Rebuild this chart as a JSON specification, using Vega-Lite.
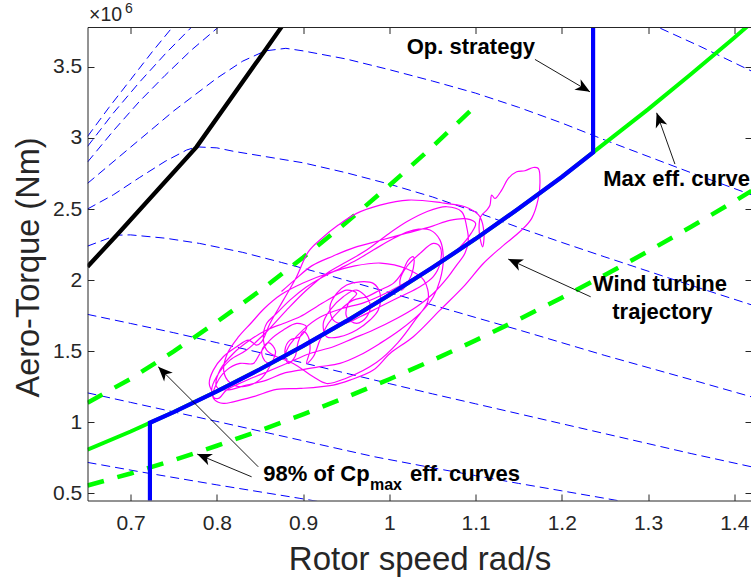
{
"$schema": "https://vega.github.io/schema/vega-lite/v6.json",
"width": 664,
"height": 473.5,
"autosize": {"type": "none"},
"padding": {"left": 87.5, "top": 27, "right": 0, "bottom": 80.5},
"background": "white",
"config": {"view": {"stroke": null}},
"resolve": {"axis": {"x": "independent", "y": "independent"}},
"encoding": {
  "x": {"field": "x", "type": "quantitative", "scale": {"domain": [0.65, 1.42], "nice": false, "zero": false}, "axis": null},
  "y": {"field": "y", "type": "quantitative", "scale": {"domain": [0.45, 3.78], "nice": false, "zero": false}, "axis": null}
},
"layer": [
{
  "data": {"values": [
    {"c":1,"x":0.65,"y":3.01},{"c":1,"x":0.675,"y":3.215},{"c":1,"x":0.70,"y":3.41},{"c":1,"x":0.725,"y":3.605},{"c":1,"x":0.75,"y":3.79},{"c":1,"x":0.77,"y":3.94},
    {"c":2,"x":0.65,"y":2.94},{"c":2,"x":0.68,"y":3.175},{"c":2,"x":0.71,"y":3.39},{"c":2,"x":0.74,"y":3.59},{"c":2,"x":0.77,"y":3.775},{"c":2,"x":0.79,"y":3.89},
    {"c":3,"x":0.65,"y":2.83},{"c":3,"x":0.68,"y":3.05},{"c":3,"x":0.71,"y":3.255},{"c":3,"x":0.74,"y":3.44},{"c":3,"x":0.77,"y":3.615},{"c":3,"x":0.80,"y":3.77},{"c":3,"x":0.83,"y":3.91},{"c":3,"x":0.90,"y":4.2},{"c":3,"x":1.0,"y":4.4},{"c":3,"x":1.1,"y":4.35},{"c":3,"x":1.2,"y":4.12},{"c":3,"x":1.26,"y":3.93},{"c":3,"x":1.311,"y":3.78},{"c":3,"x":1.36,"y":3.645},{"c":3,"x":1.42,"y":3.47},
    {"c":4,"x":0.65,"y":2.68},{"c":4,"x":0.70,"y":2.935},{"c":4,"x":0.75,"y":3.19},{"c":4,"x":0.80,"y":3.42},{"c":4,"x":0.83,"y":3.54},{"c":4,"x":0.856,"y":3.612},{"c":4,"x":0.88,"y":3.63},{"c":4,"x":0.90,"y":3.612},{"c":4,"x":0.95,"y":3.555},{"c":4,"x":1.0,"y":3.48},{"c":4,"x":1.05,"y":3.40},{"c":4,"x":1.10,"y":3.315},{"c":4,"x":1.15,"y":3.215},{"c":4,"x":1.20,"y":3.105},{"c":4,"x":1.25,"y":2.985},{"c":4,"x":1.30,"y":2.87},{"c":4,"x":1.35,"y":2.755},{"c":4,"x":1.42,"y":2.60},
    {"c":5,"x":0.65,"y":2.50},{"c":5,"x":0.68,"y":2.60},{"c":5,"x":0.71,"y":2.72},{"c":5,"x":0.74,"y":2.835},{"c":5,"x":0.765,"y":2.915},{"c":5,"x":0.7765,"y":2.937},{"c":5,"x":0.80,"y":2.93},{"c":5,"x":0.82,"y":2.905},{"c":5,"x":0.85,"y":2.875},{"c":5,"x":0.90,"y":2.825},{"c":5,"x":0.95,"y":2.755},{"c":5,"x":1.00,"y":2.675},{"c":5,"x":1.05,"y":2.585},{"c":5,"x":1.10,"y":2.48},{"c":5,"x":1.15,"y":2.37},{"c":5,"x":1.20,"y":2.265},{"c":5,"x":1.25,"y":2.163},{"c":5,"x":1.30,"y":2.063},{"c":5,"x":1.35,"y":1.963},{"c":5,"x":1.42,"y":1.826},
    {"c":6,"x":0.65,"y":2.239},{"c":6,"x":0.684,"y":2.316},{"c":6,"x":0.70,"y":2.318},{"c":6,"x":0.74,"y":2.295},{"c":6,"x":0.78,"y":2.258},{"c":6,"x":0.83,"y":2.195},{"c":6,"x":0.875,"y":2.124},{"c":6,"x":0.92,"y":2.05},{"c":6,"x":0.956,"y":1.988},{"c":6,"x":1.0,"y":1.912},{"c":6,"x":1.05,"y":1.825},{"c":6,"x":1.10,"y":1.737},{"c":6,"x":1.15,"y":1.65},{"c":6,"x":1.20,"y":1.56},{"c":6,"x":1.25,"y":1.47},{"c":6,"x":1.30,"y":1.385},{"c":6,"x":1.35,"y":1.30},{"c":6,"x":1.42,"y":1.179},
    {"c":7,"x":0.65,"y":1.759},{"c":7,"x":0.70,"y":1.695},{"c":7,"x":0.75,"y":1.63},{"c":7,"x":0.80,"y":1.56},{"c":7,"x":0.85,"y":1.49},{"c":7,"x":0.90,"y":1.418},{"c":7,"x":0.95,"y":1.345},{"c":7,"x":1.00,"y":1.272},{"c":7,"x":1.05,"y":1.20},{"c":7,"x":1.10,"y":1.13},{"c":7,"x":1.15,"y":1.06},{"c":7,"x":1.20,"y":0.99},{"c":7,"x":1.25,"y":0.92},{"c":7,"x":1.30,"y":0.85},{"c":7,"x":1.35,"y":0.78},{"c":7,"x":1.42,"y":0.687},
    {"c":8,"x":0.65,"y":1.207},{"c":8,"x":0.70,"y":1.14},{"c":8,"x":0.75,"y":1.073},{"c":8,"x":0.80,"y":1.006},{"c":8,"x":0.85,"y":0.938},{"c":8,"x":0.90,"y":0.870},{"c":8,"x":0.95,"y":0.802},{"c":8,"x":0.9833,"y":0.757},{"c":8,"x":1.05,"y":0.68},{"c":8,"x":1.10,"y":0.625},{"c":8,"x":1.15,"y":0.57},{"c":8,"x":1.20,"y":0.518},{"c":8,"x":1.2616,"y":0.453},{"c":8,"x":1.30,"y":0.41},
    {"c":9,"x":0.65,"y":0.718},{"c":9,"x":0.7108,"y":0.652},{"c":9,"x":0.80,"y":0.56},{"c":9,"x":0.8963,"y":0.465},{"c":9,"x":0.95,"y":0.41}
  ]},
  "mark": {"type": "line", "clip": true, "color": "#0000FF", "strokeWidth": 1, "strokeDash": [9, 5]},
  "encoding": {
    "x": {"field": "x", "type": "quantitative", "scale": {"domain": [0.65, 1.42], "nice": false, "zero": false},
      "axis": {"orient": "bottom", "values": [0.7,0.8,0.9,1,1.1,1.2,1.3,1.4], "labelExpr": "'' + datum.value", "grid": false, "zindex": 1,
        "domainColor": "#262626", "domainWidth": 1, "tickColor": "#262626", "tickSize": -6.5, "tickWidth": 1,
        "labelFont": "Liberation Sans", "labelFontSize": 21, "labelColor": "#262626", "labelBaseline": "alphabetic", "labelPadding": 35.8,
        "title": "Rotor speed rad/s", "titleFont": "Liberation Sans", "titleFontSize": 33, "titleFontWeight": "normal", "titleColor": "#262626",
        "titleBaseline": "alphabetic", "titleY": 68.5}},
    "y": {"field": "y", "type": "quantitative", "scale": {"domain": [0.45, 3.78], "nice": false, "zero": false},
      "axis": {"orient": "left", "values": [0.5,1,1.5,2,2.5,3,3.5], "labelExpr": "'' + datum.value", "grid": false, "zindex": 1,
        "domainColor": "#262626", "domainWidth": 1, "tickColor": "#262626", "tickSize": -6.5, "tickWidth": 1,
        "labelFont": "Liberation Sans", "labelFontSize": 21, "labelColor": "#262626", "labelBaseline": "middle", "labelPadding": 12.3,
        "title": "Aero-Torque (Nm)", "titleFont": "Liberation Sans", "titleFontSize": 32.5, "titleFontWeight": "normal", "titleColor": "#262626",
        "titleBaseline": "alphabetic", "titleX": -49, "titleY": 240}},
    "detail": {"field": "c", "type": "nominal"}
  }
},
{
  "data": {"values": [
    {"g":1,"x":0.65,"y":1.138},{"g":1,"x":0.70,"y":1.306},{"g":1,"x":0.75,"y":1.499},{"g":1,"x":0.80,"y":1.706},{"g":1,"x":0.85,"y":1.925},{"g":1,"x":0.90,"y":2.159},{"g":1,"x":0.95,"y":2.405},{"g":1,"x":1.00,"y":2.665},{"g":1,"x":1.05,"y":2.938},{"g":1,"x":1.0935,"y":3.187},
    {"g":2,"x":0.65,"y":0.555},{"g":2,"x":0.70,"y":0.640},{"g":2,"x":0.75,"y":0.734},{"g":2,"x":0.80,"y":0.835},{"g":2,"x":0.85,"y":0.942},{"g":2,"x":0.90,"y":1.056},{"g":2,"x":0.95,"y":1.176},{"g":2,"x":1.00,"y":1.303},{"g":2,"x":1.05,"y":1.436},{"g":2,"x":1.10,"y":1.576},{"g":2,"x":1.15,"y":1.723},{"g":2,"x":1.20,"y":1.876},{"g":2,"x":1.25,"y":2.036},{"g":2,"x":1.30,"y":2.202},{"g":2,"x":1.35,"y":2.375},{"g":2,"x":1.40,"y":2.554},{"g":2,"x":1.42,"y":2.627}
  ]},
  "mark": {"type": "line", "clip": true, "color": "#00FF00", "strokeWidth": 4.5, "strokeDash": [17, 14], "strokeCap": "butt"},
  "encoding": {
    "x": {"field": "x", "type": "quantitative", "scale": {"domain": [0.65, 1.42], "nice": false, "zero": false},
      "axis": {"orient": "top", "values": [0.7,0.8,0.9,1,1.1,1.2,1.3,1.4], "labels": false, "grid": false, "zindex": 1, "title": null,
        "domainColor": "#262626", "domainWidth": 1, "tickColor": "#262626", "tickSize": -6.5, "tickWidth": 1}},
    "y": {"field": "y", "type": "quantitative", "scale": {"domain": [0.45, 3.78], "nice": false, "zero": false},
      "axis": {"orient": "right", "values": [0.5,1,1.5,2,2.5,3,3.5], "labels": false, "grid": false, "zindex": 1, "title": null,
        "domainColor": "#262626", "domainWidth": 1, "tickColor": "#262626", "tickSize": -6.5, "tickWidth": 1}},
    "detail": {"field": "g", "type": "nominal"}
  }
},
{
  "data": {"values": [
    {"x":0.65,"y":2.094},{"x":0.6838,"y":2.316},{"x":0.7765,"y":2.937},{"x":0.856,"y":3.617},{"x":0.8751,"y":3.781},{"x":0.89,"y":3.91}
  ]},
  "mark": {"type": "line", "clip": true, "color": "#000000", "strokeWidth": 4.3}
},
{
  "data": {"values": [
    {"i":1,"x":0.7959,"y":1.203},{"i":2,"x":0.7912,"y":1.273},{"i":3,"x":0.7959,"y":1.367},{"i":4,"x":0.8075,"y":1.461},{"i":5,"x":0.8229,"y":1.531},{"i":6,"x":0.8365,"y":1.578},{"i":7,"x":0.8461,"y":1.543},{"i":8,"x":0.8519,"y":1.566},{"i":9,"x":0.8616,"y":1.695},{"i":10,"x":0.8771,"y":1.859},
    {"i":11,"x":0.8925,"y":2.024},{"i":12,"x":0.9060,"y":2.199},{"i":13,"x":0.9215,"y":2.293},{"i":14,"x":0.9408,"y":2.387},{"i":15,"x":0.9621,"y":2.469},{"i":16,"x":0.9892,"y":2.527},{"i":17,"x":1.0220,"y":2.563},{"i":18,"x":1.0607,"y":2.544},{"i":19,"x":1.0877,"y":2.516},{"i":20,"x":1.0993,"y":2.481},
    {"i":21,"x":1.1051,"y":2.445},{"i":22,"x":1.1098,"y":2.328},{"i":23,"x":1.1082,"y":2.234},{"i":24,"x":1.1044,"y":2.328},{"i":25,"x":1.1059,"y":2.445},{"i":26,"x":1.1129,"y":2.492},{"i":27,"x":1.1167,"y":2.527},{"i":28,"x":1.1187,"y":2.598},{"i":29,"x":1.1225,"y":2.574},{"i":30,"x":1.1303,"y":2.633},
    {"i":31,"x":1.1380,"y":2.715},{"i":32,"x":1.1477,"y":2.762},{"i":33,"x":1.1573,"y":2.769},{"i":34,"x":1.1670,"y":2.792},{"i":35,"x":1.1728,"y":2.785},{"i":36,"x":1.1747,"y":2.691},{"i":37,"x":1.1728,"y":2.574},{"i":38,"x":1.1651,"y":2.434},{"i":39,"x":1.1535,"y":2.352},{"i":40,"x":1.1303,"y":2.234},
    {"i":41,"x":1.1090,"y":2.117},{"i":42,"x":1.0877,"y":1.965},{"i":43,"x":1.0588,"y":1.789},{"i":44,"x":1.0278,"y":1.602},{"i":45,"x":1.0008,"y":1.484},{"i":46,"x":0.9814,"y":1.367},{"i":47,"x":0.9544,"y":1.297},{"i":48,"x":0.9350,"y":1.262},{"i":49,"x":0.8964,"y":1.238},{"i":50,"x":0.8693,"y":1.231},
    {"i":51,"x":0.8423,"y":1.180},{"i":52,"x":0.8191,"y":1.144},{"i":53,"x":0.8075,"y":1.133},{"i":54,"x":0.7978,"y":1.156},{"i":55,"x":0.7939,"y":1.227},{"i":56,"x":0.7997,"y":1.320},{"i":57,"x":0.8152,"y":1.437},{"i":58,"x":0.8345,"y":1.508},{"i":59,"x":0.8577,"y":1.637},{"i":60,"x":0.8809,"y":1.789},
    {"i":61,"x":0.9041,"y":1.930},{"i":62,"x":0.9273,"y":2.047},{"i":63,"x":0.9505,"y":2.129},{"i":64,"x":0.9737,"y":2.211},{"i":65,"x":0.9969,"y":2.316},{"i":66,"x":1.0201,"y":2.410},{"i":67,"x":1.0433,"y":2.481},{"i":68,"x":1.0665,"y":2.516},{"i":69,"x":1.0839,"y":2.481},{"i":70,"x":1.0897,"y":2.375},
    {"i":71,"x":1.0916,"y":2.281},{"i":72,"x":1.0877,"y":2.188},{"i":73,"x":1.0781,"y":2.106},{"i":74,"x":1.0684,"y":2.024},{"i":75,"x":1.0510,"y":1.906},{"i":76,"x":1.0317,"y":1.813},{"i":77,"x":1.0085,"y":1.730},{"i":78,"x":0.9814,"y":1.649},{"i":79,"x":0.9582,"y":1.590},{"i":80,"x":0.9350,"y":1.531},
    {"i":81,"x":0.9080,"y":1.484},{"i":82,"x":0.8809,"y":1.414},{"i":83,"x":0.8539,"y":1.344},{"i":84,"x":0.8307,"y":1.285},{"i":85,"x":0.8113,"y":1.227},{"i":86,"x":0.8017,"y":1.168},{"i":87,"x":0.7959,"y":1.180},{"i":88,"x":0.7997,"y":1.273},{"i":89,"x":0.8113,"y":1.367},{"i":90,"x":0.8268,"y":1.414},
    {"i":91,"x":0.8423,"y":1.414},{"i":92,"x":0.8500,"y":1.484},{"i":93,"x":0.8616,"y":1.578},{"i":94,"x":0.8771,"y":1.649},{"i":95,"x":0.8925,"y":1.695},{"i":96,"x":0.9041,"y":1.672},{"i":97,"x":0.8964,"y":1.602},{"i":98,"x":0.8848,"y":1.578},{"i":99,"x":0.8790,"y":1.508},{"i":100,"x":0.8828,"y":1.414},
    {"i":101,"x":0.8906,"y":1.461},{"i":102,"x":0.8944,"y":1.566},{"i":103,"x":0.9002,"y":1.637},{"i":104,"x":0.9060,"y":1.602},{"i":105,"x":0.9080,"y":1.508},{"i":106,"x":0.9041,"y":1.414},{"i":107,"x":0.9118,"y":1.461},{"i":108,"x":0.9196,"y":1.578},{"i":109,"x":0.9292,"y":1.695},{"i":110,"x":0.9428,"y":1.789},
    {"i":111,"x":0.9582,"y":1.859},{"i":112,"x":0.9737,"y":1.883},{"i":113,"x":0.9892,"y":1.930},{"i":114,"x":1.0046,"y":1.977},{"i":115,"x":1.0143,"y":2.047},{"i":116,"x":1.0220,"y":2.141},{"i":117,"x":1.0278,"y":2.164},{"i":118,"x":1.0278,"y":2.082},{"i":119,"x":1.0220,"y":1.988},{"i":120,"x":1.0143,"y":1.930},
    {"i":121,"x":1.0124,"y":2.000},{"i":122,"x":1.0201,"y":2.094},{"i":123,"x":1.0356,"y":2.188},{"i":124,"x":1.0510,"y":2.258},{"i":125,"x":1.0588,"y":2.234},{"i":126,"x":1.0588,"y":2.117},{"i":127,"x":1.0510,"y":2.024},{"i":128,"x":1.0356,"y":1.953},{"i":129,"x":1.0124,"y":1.883},{"i":130,"x":0.9892,"y":1.813},
    {"i":131,"x":0.9660,"y":1.742},{"i":132,"x":0.9466,"y":1.695},{"i":133,"x":0.9350,"y":1.719},{"i":134,"x":0.9312,"y":1.813},{"i":135,"x":0.9389,"y":1.906},{"i":136,"x":0.9505,"y":1.965},{"i":137,"x":0.9660,"y":1.988},{"i":138,"x":0.9814,"y":1.977},{"i":139,"x":0.9892,"y":1.906},{"i":140,"x":0.9872,"y":1.789},
    {"i":141,"x":0.9776,"y":1.719},{"i":142,"x":0.9621,"y":1.649},{"i":143,"x":0.9428,"y":1.602},{"i":144,"x":0.9273,"y":1.602},{"i":145,"x":0.9234,"y":1.695},{"i":146,"x":0.9312,"y":1.789},{"i":147,"x":0.9466,"y":1.883},{"i":148,"x":0.9621,"y":1.930},{"i":149,"x":0.9776,"y":1.836},{"i":150,"x":0.9737,"y":1.742},
    {"i":151,"x":0.9621,"y":1.695},{"i":152,"x":0.9505,"y":1.742},{"i":153,"x":0.9524,"y":1.836},{"i":154,"x":0.9621,"y":1.906},{"i":155,"x":0.9505,"y":1.930},{"i":156,"x":0.9350,"y":1.883},{"i":157,"x":0.9157,"y":1.813},{"i":158,"x":0.8964,"y":1.742},{"i":159,"x":0.8771,"y":1.695},{"i":160,"x":0.8577,"y":1.649},
    {"i":161,"x":0.8384,"y":1.578},{"i":162,"x":0.8191,"y":1.484},{"i":163,"x":0.8036,"y":1.367},{"i":164,"x":0.7997,"y":1.250},{"i":165,"x":0.8113,"y":1.227},{"i":166,"x":0.8345,"y":1.262},{"i":167,"x":0.8577,"y":1.297},{"i":168,"x":0.8771,"y":1.344},{"i":169,"x":0.8964,"y":1.367},{"i":170,"x":0.9196,"y":1.391},
    {"i":171,"x":0.9428,"y":1.414},{"i":172,"x":0.9660,"y":1.473},{"i":173,"x":0.9892,"y":1.555},{"i":174,"x":1.0124,"y":1.649},{"i":175,"x":1.0356,"y":1.766},{"i":176,"x":1.0510,"y":1.883},{"i":177,"x":1.0588,"y":2.000},{"i":178,"x":1.0626,"y":2.141},{"i":179,"x":1.0588,"y":2.281},{"i":180,"x":1.0472,"y":2.352},
    {"i":181,"x":1.0278,"y":2.352},{"i":182,"x":1.0046,"y":2.293},{"i":183,"x":0.9814,"y":2.211},{"i":184,"x":0.9621,"y":2.141},{"i":185,"x":0.9428,"y":2.082},{"i":186,"x":0.9234,"y":2.024},{"i":187,"x":0.9041,"y":1.953},{"i":188,"x":0.8848,"y":1.859},{"i":189,"x":0.8693,"y":1.766},{"i":190,"x":0.8577,"y":1.695},
    {"i":191,"x":0.8539,"y":1.602},{"i":192,"x":0.8577,"y":1.508},{"i":193,"x":0.8693,"y":1.461},{"i":194,"x":0.8886,"y":1.414},{"i":195,"x":0.9118,"y":1.320},{"i":196,"x":0.9273,"y":1.273},
    {"i":197,"x":0.95,"y":1.31},{"i":198,"x":0.985,"y":1.42},{"i":199,"x":1.01,"y":1.56},{"i":200,"x":1.03,"y":1.72},{"i":201,"x":1.045,"y":1.86},{"i":202,"x":1.04,"y":2.0},{"i":203,"x":1.02,"y":2.08},{"i":204,"x":0.99,"y":2.12},{"i":205,"x":0.96,"y":2.10},{"i":206,"x":0.93,"y":2.05},
    {"i":207,"x":0.90,"y":1.98},{"i":208,"x":0.875,"y":1.90},{"i":209,"x":0.855,"y":1.80},{"i":210,"x":0.84,"y":1.70},{"i":211,"x":0.825,"y":1.60},{"i":212,"x":0.812,"y":1.48},{"i":213,"x":0.808,"y":1.36},{"i":214,"x":0.815,"y":1.28},{"i":215,"x":0.83,"y":1.25},{"i":216,"x":0.85,"y":1.30},
    {"i":217,"x":0.862,"y":1.40},{"i":218,"x":0.868,"y":1.50},{"i":219,"x":0.86,"y":1.56},{"i":220,"x":0.852,"y":1.50},{"i":221,"x":0.858,"y":1.42},{"i":222,"x":0.875,"y":1.45},{"i":223,"x":0.885,"y":1.55},{"i":224,"x":0.90,"y":1.65},{"i":225,"x":0.92,"y":1.74},{"i":226,"x":0.945,"y":1.80},
    {"i":227,"x":0.97,"y":1.84},{"i":228,"x":1.00,"y":1.92},{"i":229,"x":1.03,"y":2.02},{"i":230,"x":1.06,"y":2.12},{"i":231,"x":1.08,"y":2.22},{"i":232,"x":1.095,"y":2.33},{"i":233,"x":1.10,"y":2.40},{"i":234,"x":1.09,"y":2.43},{"i":235,"x":1.07,"y":2.42},{"i":236,"x":1.05,"y":2.38},
    {"i":237,"x":1.02,"y":2.33},{"i":238,"x":0.99,"y":2.28},{"i":239,"x":0.96,"y":2.23},{"i":240,"x":0.935,"y":2.17},{"i":241,"x":0.91,"y":2.10},{"i":242,"x":0.89,"y":2.00},{"i":243,"x":0.875,"y":1.92}
  ]},
  "mark": {"type": "line", "clip": true, "color": "#FF00FF", "strokeWidth": 1.2, "interpolate": "catmull-rom"},
  "encoding": {"order": {"field": "i", "type": "quantitative"}}
},
{
  "data": {"values": [
    {"x":0.65,"y":0.808},{"x":0.70,"y":0.935},{"x":0.7224,"y":0.997},{"x":0.75,"y":1.072},{"x":0.80,"y":1.218},{"x":0.85,"y":1.373},{"x":0.90,"y":1.537},{"x":0.95,"y":1.711},{"x":1.00,"y":1.895},{"x":1.05,"y":2.088},{"x":1.10,"y":2.290},{"x":1.15,"y":2.503},{"x":1.20,"y":2.725},{"x":1.2363,"y":2.898},{"x":1.30,"y":3.201},{"x":1.35,"y":3.450},{"x":1.40,"y":3.705},{"x":1.42,"y":3.81}
  ]},
  "mark": {"type": "line", "clip": true, "color": "#00FF00", "strokeWidth": 4}
},
{
  "data": {"values": [
    {"i":1,"x":0.7224,"y":0.40},{"i":2,"x":0.7224,"y":0.997},{"i":3,"x":0.75,"y":1.072},{"i":4,"x":0.80,"y":1.218},{"i":5,"x":0.85,"y":1.373},{"i":6,"x":0.90,"y":1.537},{"i":7,"x":0.95,"y":1.711},{"i":8,"x":1.00,"y":1.895},{"i":9,"x":1.05,"y":2.088},{"i":10,"x":1.10,"y":2.290},{"i":11,"x":1.15,"y":2.503},{"i":12,"x":1.20,"y":2.725},{"i":13,"x":1.2363,"y":2.898},{"i":14,"x":1.2363,"y":3.95}
  ]},
  "mark": {"type": "line", "clip": true, "color": "#0000FF", "strokeWidth": 4.2},
  "encoding": {"order": {"field": "i", "type": "quantitative"}}
},
{
  "data": {"values": [
    {"x":1.1689,"y":3.552,"x2":1.2327,"y2":3.324},
    {"x":1.3312,"y":2.816,"x2":1.31,"y2":3.1765},
    {"x":1.2335,"y":1.8826,"x2":1.1379,"y2":2.1477},
    {"x":0.848,"y":0.687,"x2":0.732,"y2":1.390},
    {"x":0.8403,"y":0.6167,"x2":0.7772,"y2":0.7764}
  ]},
  "mark": {"type": "rule", "color": "#000000", "strokeWidth": 0.9},
  "encoding": {
    "x2": {"field": "x2"},
    "y2": {"field": "y2"}
  }
},
{
  "data": {"values": [{"x":1.2327,"y":3.324}]},
  "mark": {"type": "point", "shape": "M0,0L-1,-0.42L-0.72,0L-1,0.42Z", "size": 841, "filled": true, "color": "#000000", "opacity": 1, "strokeWidth": 0, "angle": 30.5}
},
{
  "data": {"values": [{"x":1.31,"y":3.1765}]},
  "mark": {"type": "point", "shape": "M0,0L-1,-0.42L-0.72,0L-1,0.42Z", "size": 841, "filled": true, "color": "#000000", "opacity": 1, "strokeWidth": 0, "angle": 250.4}
},
{
  "data": {"values": [{"x":1.1379,"y":2.1477}]},
  "mark": {"type": "point", "shape": "M0,0L-1,-0.42L-0.72,0L-1,0.42Z", "size": 841, "filled": true, "color": "#000000", "opacity": 1, "strokeWidth": 0, "angle": 204.6}
},
{
  "data": {"values": [{"x":0.732,"y":1.390}]},
  "mark": {"type": "point", "shape": "M0,0L-1,-0.42L-0.72,0L-1,0.42Z", "size": 841, "filled": true, "color": "#000000", "opacity": 1, "strokeWidth": 0, "angle": 225}
},
{
  "data": {"values": [{"x":0.7772,"y":0.7764}]},
  "mark": {"type": "point", "shape": "M0,0L-1,-0.42L-0.72,0L-1,0.42Z", "size": 841, "filled": true, "color": "#000000", "opacity": 1, "strokeWidth": 0, "angle": 202.6}
},
{
  "data": {"values": [
    {"t":"Op. strategy","x":1.0946,"y":3.589},
    {"t":"Max eff. curve","x":1.3332,"y":2.661},
    {"t":"Wind turbine","x":1.3138,"y":1.9226},
    {"t":"trajectory","x":1.3167,"y":1.7257}
  ]},
  "mark": {"type": "text", "font": "Liberation Sans", "fontWeight": "bold", "fontSize": 22, "color": "#000000", "align": "center", "baseline": "alphabetic"},
  "encoding": {"text": {"field": "t"}}
},
{
  "data": {"values": [
    {"t":"98% of Cp","x":0.8538,"y":0.5865},
    {"t":"eff. curves","x":1.0239,"y":0.5865}
  ]},
  "mark": {"type": "text", "font": "Liberation Sans", "fontWeight": "bold", "fontSize": 22, "color": "#000000", "align": "left", "baseline": "alphabetic"},
  "encoding": {"text": {"field": "t"}}
},
{
  "data": {"values": [{"t":"max","x":0.9775,"y":0.5232}]},
  "mark": {"type": "text", "font": "Liberation Sans", "fontWeight": "bold", "fontSize": 16, "color": "#000000", "align": "left", "baseline": "alphabetic"},
  "encoding": {"text": {"field": "t"}}
},
{
  "data": {"values": [{"t":"×10","x":0.65,"y":3.78}]},
  "mark": {"type": "text", "font": "Liberation Sans", "fontSize": 19.5, "color": "#262626", "align": "left", "baseline": "alphabetic", "dx": 1.5, "dy": -6.3},
  "encoding": {"text": {"field": "t"}}
},
{
  "data": {"values": [{"t":"6","x":0.65,"y":3.78}]},
  "mark": {"type": "text", "font": "Liberation Sans", "fontSize": 14, "color": "#262626", "align": "left", "baseline": "alphabetic", "dx": 37.5, "dy": -14.3},
  "encoding": {"text": {"field": "t"}}
}
]
}
